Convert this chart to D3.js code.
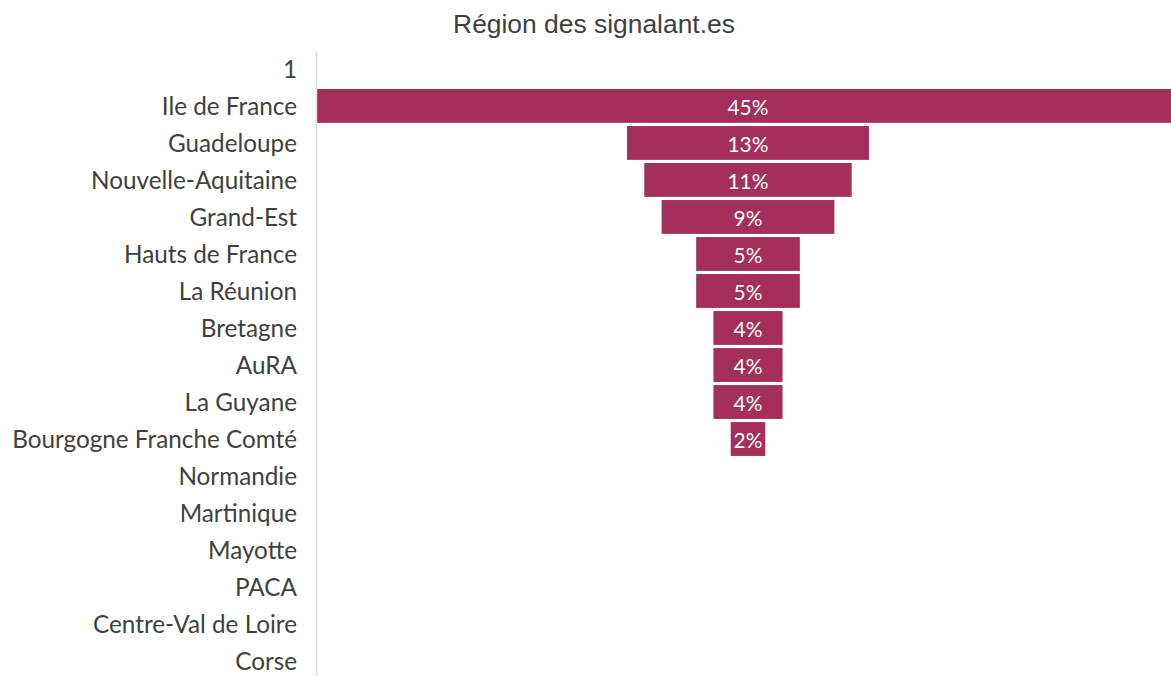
<!DOCTYPE html>
<html>
<head>
<meta charset="utf-8">
<script src="https://cdn.jsdelivr.net/npm/d3@7"></script>
<style>
  html, body { margin: 0; padding: 0; background: #ffffff; }
  svg { display: block; }
</style>
</head>
<body>
<svg id="chart" width="1171" height="676"></svg>
<script>
// Regions, top to bottom (the first row is an empty header row labelled "1")
const categories = [
  "1", "Ile de France", "Guadeloupe", "Nouvelle-Aquitaine", "Grand-Est",
  "Hauts de France", "La Réunion", "Bretagne", "AuRA", "La Guyane",
  "Bourgogne Franche Comté", "Normandie", "Martinique", "Mayotte", "PACA",
  "Centre-Val de Loire", "Corse"
];
// Number of reports per region
const counts = [0, 25, 7, 6, 5, 3, 3, 2, 2, 2, 1, 0, 0, 0, 0, 0, 0];
const title = "Région des signalant.es";

const total = d3.sum(counts);
const data = categories.map((c, i) => ({ region: c, share: counts[i] / total }));
const maxShare = d3.max(data, d => d.share);

const axisX = 316;
const centerX = 748;
const svg = d3.select("#chart");

const labelFont = "Lato, 'Open Sans', sans-serif";
const titleFont = "'Liberation Sans', Arial, sans-serif";

// Fit a font size so that a given string spans a target width
function fitSize(text, family, target) {
  const t = svg.append("text").attr("font-family", family).attr("font-size", 100).text(text);
  const w = t.node().getComputedTextLength();
  t.remove();
  return 100 * target / w;
}
const axisFontSize = fitSize("Bourgogne Franche Comté", labelFont, 285);
const barFontSize = fitSize("45%", labelFont, 41);
const titleFontSize = fitSize(title, titleFont, 282);

// Scales: funnel bars are centred on centerX
const y = d3.scaleBand()
  .domain(categories)
  .range([50.5, 679.5])
  .paddingInner(0.085)
  .paddingOuter(0.04);

const half = centerX - axisX;
const x = d3.scaleLinear()
  .domain([-maxShare / 2, maxShare / 2])
  .range([centerX - half, centerX + half]);

// Title
svg.append("text")
  .attr("x", 594)
  .attr("y", 33)
  .attr("text-anchor", "middle")
  .attr("font-family", titleFont)
  .attr("font-size", titleFontSize)
  .attr("fill", "#404040")
  .text(title);

// Bars
const bars = data.filter(d => d.share > 0);
svg.append("g")
  .selectAll("rect")
  .data(bars)
  .join("rect")
  .attr("x", d => x(-d.share / 2))
  .attr("width", d => x(d.share / 2) - x(-d.share / 2))
  .attr("y", d => y(d.region))
  .attr("height", y.bandwidth())
  .attr("fill", "#a32f5a");

// Value labels inside the bars
const fmt = d3.format(".0%");
svg.append("g")
  .selectAll("text")
  .data(bars)
  .join("text")
  .attr("x", centerX)
  .attr("y", d => y(d.region) + y.bandwidth() / 2)
  .attr("dy", barFontSize * 0.42)
  .attr("text-anchor", "middle")
  .attr("font-family", labelFont)
  .attr("font-size", barFontSize)
  .attr("fill", "#ffffff")
  .text(d => fmt(d.share));

// Category axis
const axis = svg.append("g")
  .attr("transform", `translate(${axisX},0)`)
  .call(d3.axisLeft(y).tickSize(0).tickSizeOuter(0).tickPadding(19));
axis.select(".domain").attr("stroke", "#d9d9d9").attr("stroke-width", 1.5);
axis.selectAll(".tick text")
  .attr("font-family", labelFont)
  .attr("font-size", axisFontSize)
  .attr("fill", "#404040")
  .attr("dy", axisFontSize * 0.38);
</script>
</body>
</html>
